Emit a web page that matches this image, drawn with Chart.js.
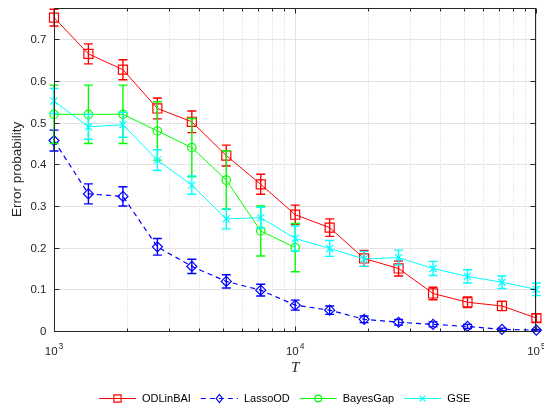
<!DOCTYPE html>
<html>
<head>
<meta charset="utf-8">
<script src="https://cdn.jsdelivr.net/npm/chart.js@4/dist/chart.umd.min.js"></script>
<style>
  html, body { margin: 0; padding: 0; background: #fff; }
  #wrap { width: 544px; height: 406px; position: relative; }
</style>
</head>
<body>
<div id="wrap"><canvas id="chart"></canvas></div>
<script>
// T values (log-spaced budgets)
const T = [1000, 1389, 1931, 2683, 3728, 5179, 7197, 10000, 13895, 19307, 26827, 37276, 51795, 71969, 100000];

const odl      = [0.752, 0.665, 0.627, 0.534, 0.502, 0.421, 0.352, 0.279, 0.248, 0.174, 0.150, 0.090, 0.069, 0.060, 0.031];
const odlErr   = [0.020, 0.024, 0.024, 0.025, 0.026, 0.025, 0.024, 0.023, 0.021, 0.019, 0.018, 0.015, 0.013, 0.011, 0.010];
const lasso    = [0.457, 0.329, 0.323, 0.202, 0.155, 0.119, 0.098, 0.062, 0.050, 0.028, 0.021, 0.016, 0.011, 0.004, 0.002];
const lassoErr = [0.025, 0.024, 0.023, 0.020, 0.017, 0.016, 0.014, 0.012, 0.010, 0.008, 0.007, 0.006, 0.005, 0.003, 0.002];
const bayes    = [0.520, 0.520, 0.520, 0.480, 0.440, 0.362, 0.240, 0.200];
const bayesErr = [0.070, 0.070, 0.070, 0.070, 0.070, 0.070, 0.060, 0.058];
const gse      = [0.552, 0.490, 0.495, 0.410, 0.350, 0.269, 0.272, 0.222, 0.198, 0.173, 0.176, 0.150, 0.131, 0.117, 0.100];
const gseErr   = [0.030, 0.030, 0.030, 0.025, 0.022, 0.024, 0.025, 0.030, 0.019, 0.018, 0.018, 0.017, 0.016, 0.015, 0.015];

const yTicks = [0, 0.1, 0.2, 0.3, 0.4, 0.5, 0.6, 0.7];
const xDecades = [3, 4, 5];
const names = ['ODLinBAI', 'LassoOD', 'BayesGap', 'GSE'];
const colors = ['#ff0000', '#0000ff', '#00ff00', '#00ffff'];
const markers = ['rect', 'rectRot', 'circle', 'crossRot'];
const markerSize = [6.4, 5, 4.2, 5];

const FONT = '"Liberation Sans", Arial, Helvetica, sans-serif';

function pts(vals) {
    return vals.map((v, i) => ({ x: T[i], y: v }));
}

function makeSet(i, vals, errs, extra) {
    return Object.assign({
        label: names[i],
        data: pts(vals),
        errs: errs,
        borderColor: colors[i],
        backgroundColor: colors[i],
        borderWidth: 1,
        pointStyle: markers[i],
        pointRadius: markerSize[i],
        pointBorderWidth: 1.2,
        pointBorderColor: colors[i],
        pointBackgroundColor: 'rgba(0,0,0,0)',
        pointHoverRadius: markerSize[i],
        tension: 0,
        clip: false,
        order: 4 - i
    }, extra || {});
}

function drawMarker(ctx, style, x, y, r, color) {
    ctx.save();
    ctx.strokeStyle = color;
    ctx.lineWidth = 1.2;
    ctx.setLineDash([]);
    ctx.beginPath();
    if (style === 'rect') {
        const s = r * Math.SQRT1_2;
        ctx.rect(x - s, y - s, 2 * s, 2 * s);
    } else if (style === 'rectRot') {
        ctx.moveTo(x, y - r); ctx.lineTo(x + r * 0.8, y);
        ctx.lineTo(x, y + r); ctx.lineTo(x - r * 0.8, y); ctx.closePath();
    } else if (style === 'circle') {
        ctx.arc(x, y, r, 0, Math.PI * 2);
    } else {
        const s = r * Math.SQRT1_2;
        ctx.moveTo(x - s, y - s); ctx.lineTo(x + s, y + s);
        ctx.moveTo(x + s, y - s); ctx.lineTo(x - s, y + s);
    }
    ctx.stroke();
    ctx.restore();
}

// grid, box, ticks and labels in MATLAB style
const axesPlugin = {
    id: 'axesPlugin',
    beforeDatasetsDraw(chart) {
        const { ctx, chartArea: a, scales: { x, y } } = chart;
        ctx.save();
        ctx.lineWidth = 1;
        // minor vertical grid (dotted)
        ctx.strokeStyle = '#d4d4d4';
        ctx.setLineDash([1, 2]);
        xDecades.slice(0, -1).forEach(d => {
            for (let m = 2; m <= 9; m++) {
                const px = Math.round(x.getPixelForValue(m * Math.pow(10, d))) + 0.5;
                ctx.beginPath(); ctx.moveTo(px, a.top); ctx.lineTo(px, a.bottom); ctx.stroke();
            }
        });
        // major grid
        ctx.setLineDash([]);
        ctx.strokeStyle = '#e3e3e3';
        xDecades.forEach(d => {
            const px = Math.round(x.getPixelForValue(Math.pow(10, d))) + 0.5;
            ctx.beginPath(); ctx.moveTo(px, a.top); ctx.lineTo(px, a.bottom); ctx.stroke();
        });
        yTicks.forEach(v => {
            const py = Math.round(y.getPixelForValue(v)) + 0.5;
            ctx.beginPath(); ctx.moveTo(a.left, py); ctx.lineTo(a.right, py); ctx.stroke();
        });
        ctx.restore();
    },
    afterDraw(chart) {
        const { ctx, chartArea: a, scales: { x, y } } = chart;
        ctx.save();
        const L = Math.round(a.left) + 0.5, R = Math.round(a.right) - 0.5;
        const Tp = Math.round(a.top) + 0.5, B = Math.round(a.bottom) + 0.5;
        ctx.strokeStyle = '#262626';
        ctx.lineWidth = 1;
        ctx.strokeRect(L, Tp, R - L, B - Tp);
        // y ticks
        ctx.beginPath();
        yTicks.forEach(v => {
            const py = Math.round(y.getPixelForValue(v)) + 0.5;
            ctx.moveTo(L, py); ctx.lineTo(L + 5, py);
            ctx.moveTo(R, py); ctx.lineTo(R - 5, py);
        });
        // x ticks
        xDecades.forEach((d, k) => {
            const px = Math.round(x.getPixelForValue(Math.pow(10, d))) + 0.5;
            ctx.moveTo(px, B); ctx.lineTo(px, B - 5);
            ctx.moveTo(px, Tp); ctx.lineTo(px, Tp + 5);
            if (k < xDecades.length - 1) {
                for (let m = 2; m <= 9; m++) {
                    const qx = Math.round(x.getPixelForValue(m * Math.pow(10, d))) + 0.5;
                    ctx.moveTo(qx, B); ctx.lineTo(qx, B - 3);
                    ctx.moveTo(qx, Tp); ctx.lineTo(qx, Tp + 3);
                }
            }
        });
        ctx.stroke();

        // y tick labels
        ctx.fillStyle = '#262626';
        ctx.font = '11.5px ' + FONT;
        ctx.textAlign = 'right';
        ctx.textBaseline = 'middle';
        yTicks.forEach(v => {
            ctx.fillText(String(v), L - 8, y.getPixelForValue(v) + 1);
        });

        // x tick labels 10^d
        ctx.textBaseline = 'alphabetic';
        ctx.textAlign = 'left';
        xDecades.forEach(d => {
            const px = x.getPixelForValue(Math.pow(10, d));
            ctx.font = '11.5px ' + FONT;
            const wb = ctx.measureText('10').width;
            ctx.font = '8.5px ' + FONT;
            const we = ctx.measureText(String(d)).width;
            const x0 = px - (wb + we + 1) / 2;
            ctx.font = '11.5px ' + FONT;
            ctx.fillText('10', x0, 355);
            ctx.font = '8.5px ' + FONT;
            ctx.fillText(String(d), x0 + wb + 1, 349);
        });

        // axis titles
        ctx.textAlign = 'center';
        ctx.font = 'italic 15px "Liberation Serif", "Times New Roman", serif';
        ctx.fillText('T', (a.left + a.right) / 2, 372);
        ctx.save();
        ctx.translate(17, (a.top + a.bottom) / 2);
        ctx.rotate(-Math.PI / 2);
        ctx.font = '13.5px ' + FONT;
        ctx.textBaseline = 'middle';
        ctx.fillText('Error probability', 0, 0);
        ctx.restore();

        // legend
        let lx = 99;
        const ly = 398.5;
        ctx.font = '11px ' + FONT;
        ctx.textAlign = 'left';
        ctx.textBaseline = 'middle';
        names.forEach((n, i) => {
            ctx.strokeStyle = colors[i];
            ctx.lineWidth = 1;
            ctx.setLineDash(i === 1 ? [5, 4] : []);
            ctx.beginPath(); ctx.moveTo(lx, ly); ctx.lineTo(lx + 37, ly); ctx.stroke();
            ctx.setLineDash([]);
            drawMarker(ctx, markers[i], lx + 18.5, ly, markerSize[i] * 0.8, colors[i]);
            ctx.fillStyle = '#000';
            ctx.fillText(n, lx + 43, ly + 0.5);
            lx = lx + 43 + ctx.measureText(n).width + 10;
        });
        ctx.restore();
    }
};

// vertical error bars drawn with each series
const errorBars = {
    id: 'errorBars',
    afterDatasetDraw(chart, args) {
        const ds = chart.data.datasets[args.index];
        if (!ds.errs) return;
        const { ctx, scales: { x, y } } = chart;
        ctx.save();
        ctx.strokeStyle = ds.borderColor;
        ctx.lineWidth = 1.4;
        ctx.setLineDash([]);
        ctx.beginPath();
        ds.data.forEach((p, i) => {
            const px = x.getPixelForValue(p.x);
            const y1 = y.getPixelForValue(p.y + ds.errs[i]);
            const y2 = y.getPixelForValue(p.y - ds.errs[i]);
            ctx.moveTo(px, y1); ctx.lineTo(px, y2);
            ctx.moveTo(px - 4.5, y1); ctx.lineTo(px + 4.5, y1);
            ctx.moveTo(px - 4.5, y2); ctx.lineTo(px + 4.5, y2);
        });
        ctx.stroke();
        ctx.restore();
    }
};

new Chart(document.getElementById('chart'), {
    type: 'line',
    data: {
        datasets: [
            makeSet(0, odl, odlErr),
            makeSet(1, lasso, lassoErr, { borderDash: [5, 4], borderWidth: 1.2 }),
            makeSet(2, bayes, bayesErr),
            makeSet(3, gse, gseErr)
        ]
    },
    options: {
        responsive: true,
        maintainAspectRatio: false,
        animation: false,
        layout: { padding: { left: 54, right: 6, top: 5, bottom: 75 } },
        scales: {
            x: { type: 'logarithmic', min: 1000, max: 100000, display: false },
            y: { type: 'linear', min: 0, max: 0.776, display: false }
        },
        plugins: {
            legend: { display: false },
            tooltip: { enabled: false }
        }
    },
    plugins: [axesPlugin, errorBars]
});
</script>
</body>
</html>
